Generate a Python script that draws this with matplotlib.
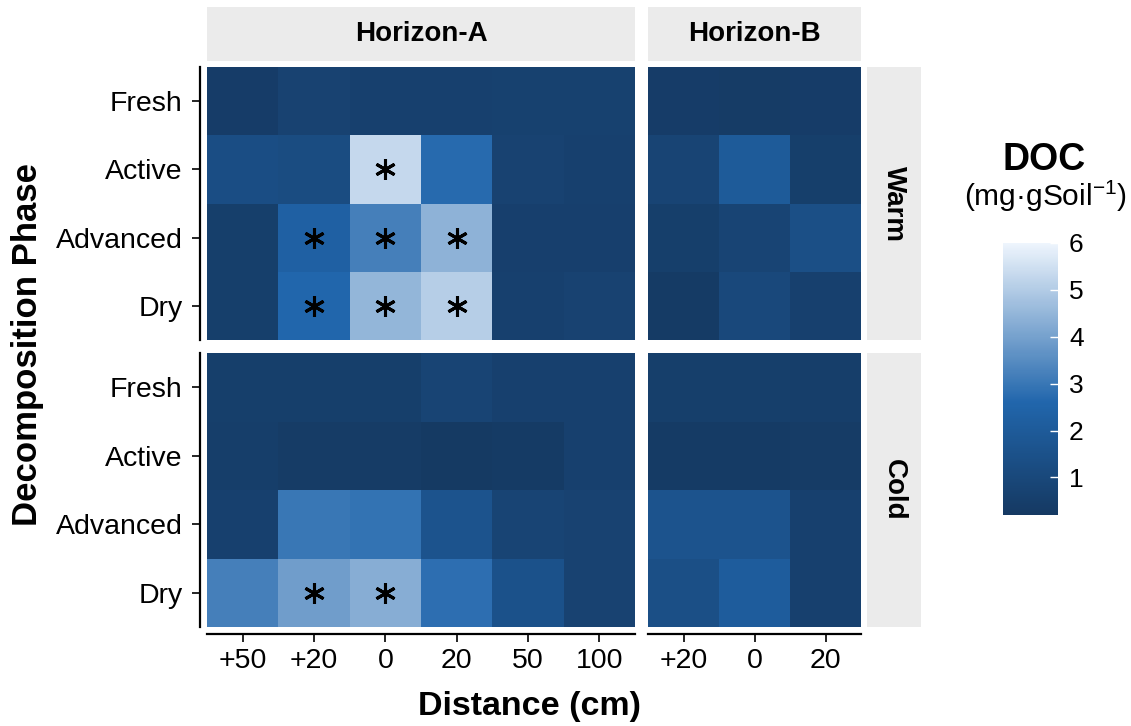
import matplotlib
matplotlib.use('agg')

import numpy as np
import matplotlib.pyplot as plt
from matplotlib.colors import LinearSegmentedColormap, Normalize

plt.rcParams['font.family'] = ['Liberation Sans', 'DejaVu Sans']
plt.rcParams['mathtext.fontset'] = 'custom'
plt.rcParams['mathtext.rm'] = 'Liberation Sans'

phases = ['Fresh', 'Active', 'Advanced', 'Dry']
dist_a = ['+50', '+20', '0', '20', '50', '100']
dist_b = ['+20', '0', '20']

# DOC (mg per g soil), rows = phases, columns = distance
warm_a = [[0.40, 0.70, 0.60, 0.60, 0.65, 0.65],
          [1.30, 1.20, 5.30, 2.70, 0.70, 0.60],
          [0.50, 2.30, 3.20, 4.40, 0.55, 0.55],
          [0.50, 2.60, 4.50, 5.05, 0.60, 0.70]]
warm_b = [[0.40, 0.35, 0.40],
          [0.80, 2.00, 0.50],
          [0.50, 0.80, 1.40],
          [0.30, 1.00, 0.60]]
cold_a = [[0.50, 0.50, 0.50, 0.80, 0.60, 0.60],
          [0.45, 0.35, 0.35, 0.25, 0.30, 0.60],
          [0.60, 3.00, 2.90, 1.60, 0.80, 0.70],
          [3.20, 3.90, 4.30, 2.80, 1.50, 0.70]]
cold_b = [[0.50, 0.50, 0.45],
          [0.30, 0.30, 0.35],
          [1.60, 1.60, 0.60],
          [1.40, 2.10, 0.60]]

# significant cells (row, column)
warm_a_sig = [(1, 2), (2, 1), (2, 2), (2, 3), (3, 1), (3, 2), (3, 3)]
cold_a_sig = [(3, 1), (3, 2)]

vmin, vmax = 0.2, 6.0
cbar_ticks = [1, 2, 3, 4, 5, 6]

cmap = LinearSegmentedColormap.from_list(
    'doc', [(0.0, '#153962'), ((2.6 - vmin) / (vmax - vmin), '#2166ac'), (1.0, '#eef5fd')])
norm = Normalize(vmin, vmax)

W, H = 1131, 726
fig = plt.figure(figsize=(W / 100, H / 100), dpi=100)


def px_axes(x0, y0, x1, y1):
    return fig.add_axes([x0 / W, 1 - y1 / H, (x1 - x0) / W, (y1 - y0) / H])


cols = {'A': (207, 635), 'B': (648, 861)}
rows = {'Warm': (67, 340), 'Cold': (353, 627)}
panels = {('Warm', 'A'): (warm_a, warm_a_sig, dist_a),
          ('Warm', 'B'): (warm_b, [], dist_b),
          ('Cold', 'A'): (cold_a, cold_a_sig, dist_a),
          ('Cold', 'B'): (cold_b, [], dist_b)}

mesh = None
for (rname, cname), (vals, sig, dists) in panels.items():
    x0, x1 = cols[cname]
    y0, y1 = rows[rname]
    ax = px_axes(x0, y0, x1, y1)
    vals = np.array(vals)
    nr, nc = vals.shape
    mesh = ax.pcolormesh(np.arange(nc + 1) - 0.5, np.arange(nr + 1) - 0.5, vals,
                         cmap=cmap, norm=norm, edgecolor='none')
    ax.set_xlim(-0.5, nc - 0.5)
    ax.set_ylim(nr - 0.5, -0.5)
    for r, c in sig:
        ax.plot(c, r, marker=(6, 2, 0), markersize=15, markeredgewidth=2.2,
                color='black', linestyle='none')

    for s in ['top', 'right']:
        ax.spines[s].set_visible(False)
    ax.spines['left'].set_visible(cname == 'A')
    ax.spines['bottom'].set_visible(rname == 'Cold')
    for s in ['left', 'bottom']:
        ax.spines[s].set_position(('outward', 5))
        ax.spines[s].set_linewidth(1.6)

    ax.tick_params(length=6, width=1.2, colors='black', labelsize=20.5, pad=4)
    ax.tick_params(axis='y', pad=6.5)
    if cname == 'A':
        ax.set_yticks(range(nr))
        ax.set_yticklabels(phases)
    else:
        ax.set_yticks([])
    if rname == 'Cold':
        ax.set_xticks(range(nc))
        ax.set_xticklabels(dists)
    else:
        ax.set_xticks([])

# facet strips
strip_bg = '#ebebeb'
for cname, label in [('A', 'Horizon-A'), ('B', 'Horizon-B')]:
    x0, x1 = cols[cname]
    sax = px_axes(x0, 7, x1, 61)
    sax.set_facecolor(strip_bg)
    sax.set_xticks([])
    sax.set_yticks([])
    for s in sax.spines.values():
        s.set_visible(False)
    sax.text(0.5, 0.5, label, ha='center', va='center', fontsize=20,
             fontweight='bold', transform=sax.transAxes)

for rname in ['Warm', 'Cold']:
    y0, y1 = rows[rname]
    sax = px_axes(867, y0, 921, y1)
    sax.set_facecolor(strip_bg)
    sax.set_xticks([])
    sax.set_yticks([])
    for s in sax.spines.values():
        s.set_visible(False)
    sax.text(0.5, 0.5, rname, ha='center', va='center', rotation=-90,
             fontsize=20, fontweight='bold', transform=sax.transAxes)

# axis titles
fig.text(530 / W, 1 - 706 / H, 'Distance (cm)', ha='center', va='center',
         fontsize=24.5, fontweight='bold')
fig.text(28 / W, 1 - 345 / H, 'Decomposition Phase', ha='center', va='center',
         rotation=90, fontsize=25, fontweight='bold')

# colourbar
cax = px_axes(1003, 243, 1058, 515)
cb = fig.colorbar(mesh, cax=cax, ticks=cbar_ticks)
cb.outline.set_visible(False)
cax.tick_params(direction='in', color='white', length=6, width=1,
                labelsize=19, pad=8)
fig.text(1044 / W, 1 - 160 / H, 'DOC', ha='center', va='center',
         fontsize=27, fontweight='bold')
fig.text(1045 / W, 1 - 196 / H, '(mg\u00b7gSoil$^{\\mathregular{-1}}$)',
         ha='center', va='center', fontsize=21.5)

fig.savefig('out.png', dpi=100)
